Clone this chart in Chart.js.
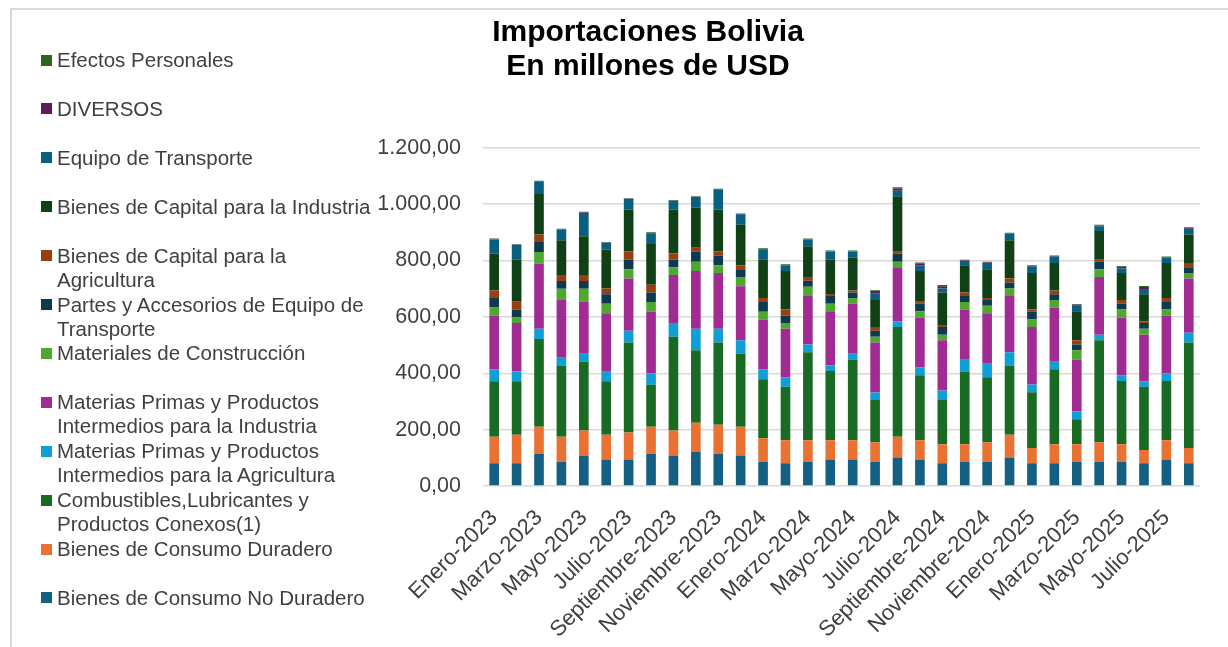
<!DOCTYPE html>
<html>
<head>
<meta charset="utf-8">
<script src="https://cdn.jsdelivr.net/npm/chart.js@4.4.1/dist/chart.umd.min.js"></script>
<style>
  html, body { margin: 0; padding: 0; background: #ffffff; }
  #wrap { position: relative; width: 1228px; height: 647px; overflow: hidden; background: #ffffff; }
  #frame { position: absolute; left: 10px; top: 8px; width: 1400px; height: 800px;
           border-left: 2px solid #d9d9d9; border-top: 2px solid #d9d9d9; }
  #chartBox { position: absolute; left: 0; top: 0; width: 1228px; height: 647px; }
  #legend { position: absolute; left: 0; top: 0; width: 420px; height: 647px;
            font-family: "Liberation Sans", Arial, sans-serif; font-size: 20.5px; color: #404040; }
  .item { position: absolute; left: 41px; white-space: pre; line-height: 24px; }
  .sw { position: absolute; left: 0; top: 6.5px; width: 11px; height: 11px; }
  .tx { position: absolute; left: 16px; top: 0; }
</style>
</head>
<body>
<div id="wrap">
  <div id="frame"></div>
  <div id="chartBox"><canvas id="c"></canvas></div>
  <div id="legend"></div>
</div>
<script>
// ---------- DATA ----------
const months = [
  'Enero-2023','Febrero-2023','Marzo-2023','Abril-2023','Mayo-2023','Junio-2023',
  'Julio-2023','Agosto-2023','Septiembre-2023','Octubre-2023','Noviembre-2023','Diciembre-2023',
  'Enero-2024','Febrero-2024','Marzo-2024','Abril-2024','Mayo-2024','Junio-2024',
  'Julio-2024','Agosto-2024','Septiembre-2024','Octubre-2024','Noviembre-2024','Diciembre-2024',
  'Enero-2025','Febrero-2025','Marzo-2025','Abril-2025','Mayo-2025','Junio-2025',
  'Julio-2025','Agosto-2025'
];

const seriesNames = [
  'Bienes de Consumo No Duradero',
  'Bienes de Consumo Duradero',
  'Combustibles,Lubricantes y\nProductos Conexos(1)',
  'Materias Primas y Productos\nIntermedios para la Agricultura',
  'Materias Primas y Productos\nIntermedios para la Industria',
  'Materiales de Construcción',
  'Partes y Accesorios de Equipo de\nTransporte',
  'Bienes de Capital para la\nAgricultura',
  'Bienes de Capital para la Industria',
  'Equipo de Transporte',
  'DIVERSOS',
  'Efectos Personales'
];

const consumoNoDuradero = [81,81,114,86,108,94,94,114,108,121,114,108,86,81,86,94,94,86,101,94,81,86,86,101,81,81,86,86,86,81,94,81];
const consumoDuradero   = [94,101,96,89,89,88,96,96,89,103,103,102,83,81,76,68,68,69,74,68,67,62,69,81,54,67,62,69,62,47,68,54];
const combustibles      = [197,190,312,253,245,190,319,149,333,258,292,259,210,190,313,246,287,150,389,231,157,258,231,246,198,266,89,362,225,224,211,374];
const mpAgricultura     = [41,34,36,27,27,36,42,41,48,76,49,48,35,34,27,20,20,27,21,28,34,42,48,47,27,27,27,20,20,20,27,35];
const mpIndustria       = [191,172,231,205,185,205,185,218,171,205,198,192,177,172,172,192,178,177,191,177,178,178,179,199,204,192,184,205,205,165,205,192];
const construccion      = [29,20,41,40,46,34,33,35,27,33,27,33,27,20,33,27,20,21,20,22,20,27,27,27,27,27,34,27,28,21,21,20];
const partesTransporte  = [34,28,36,27,27,33,34,34,27,35,35,27,35,27,21,27,20,21,29,27,27,21,20,21,27,20,20,27,21,20,27,20];
const capitalAgricultura= [27,28,26,22,22,21,29,27,22,14,14,14,14,21,14,7,7,13,6,7,7,13,7,14,8,14,15,7,13,7,14,15];
const capitalIndustria  = [131,149,144,123,137,138,149,145,156,142,149,144,136,137,109,122,116,96,197,109,116,96,102,136,130,97,103,102,96,95,124,101];
const equipoTransporte  = [49,52,43,38,83,24,37,38,31,38,69,37,37,20,23,29,22,22,20,20,14,15,22,24,24,23,20,17,16,19,19,21];
const diversos          = [1,1,1,1,1,1,1,1,1,1,2,1,1,1,1,1,1,10,8,6,8,2,2,1,1,2,4,2,6,7,1,2];
const efectosPersonales = [3,2,3,2,3,2,2,2,2,2,3,2,3,3,3,3,3,3,4,4,4,3,3,2,2,2,2,3,3,4,3,3];

const yTicks = [0, 200, 400, 600, 800, 1000, 1200];

// ---------- STYLE ----------
const seriesValues = [consumoNoDuradero, consumoDuradero, combustibles, mpAgricultura, mpIndustria,
  construccion, partesTransporte, capitalAgricultura, capitalIndustria, equipoTransporte, diversos, efectosPersonales];
const seriesColors = ['#156082','#E97132','#196B24','#0F9ED5','#A02B93','#4EA72E',
  '#0D3A4E','#983F10','#0F4016','#095F80','#601A58','#2F641C'];

const FONT = '"Liberation Sans", Arial, sans-serif';
const fmt = new Intl.NumberFormat('de-DE', { minimumFractionDigits: 2, maximumFractionDigits: 2 });

const datasets = seriesNames.map((name, i) => ({
  label: name,
  data: seriesValues[i],
  backgroundColor: seriesColors[i],
  borderWidth: 0,
  barPercentage: 0.43,
  categoryPercentage: 1.0,
  stack: 's'
}));

const chart = new Chart(document.getElementById('c'), {
  type: 'bar',
  data: { labels: months, datasets: datasets },
  options: {
    responsive: true,
    maintainAspectRatio: false,
    animation: false,
    layout: { padding: { left: 96, right: 28, top: 0, bottom: 0 } },
    plugins: {
      legend: { display: false },
      tooltip: { enabled: false },
      title: {
        display: true,
        text: ['Importaciones Bolivia', 'En millones de USD'],
        color: '#000000',
        font: { family: FONT, size: 30, weight: 'bold', lineHeight: 1.13 },
        padding: { top: 16, bottom: 64 }
      }
    },
    scales: {
      x: {
        stacked: true,
        grid: { display: false },
        border: { display: false },
        ticks: {
          autoSkip: false,
          maxRotation: 45,
          minRotation: 45,
          padding: 11,
          color: '#404040',
          font: { family: FONT, size: 22 },
          callback: function (v, i) { return i % 2 === 0 ? months[i] : ''; }
        },
        afterFit: function (scale) { scale.height = 161; }
      },
      y: {
        stacked: true,
        min: 0,
        max: 1200,
        afterBuildTicks: function (scale) { scale.ticks = yTicks.map(v => ({ value: v })); },
        grid: { color: '#d9d9d9', lineWidth: 1.5, drawTicks: false },
        border: { display: false },
        ticks: {
          padding: 22,
          color: '#404040',
          font: { family: FONT, size: 21.5 },
          callback: function (v) { return fmt.format(v); }
        },
        afterFit: function (scale) { scale.width = 387; }
      }
    }
  }
});

// ---------- HTML legend (reverse order, like the reference) ----------
const legendEl = document.getElementById('legend');
const ds = chart.data.datasets.slice().reverse();
ds.forEach((d, i) => {
  const item = document.createElement('div');
  item.className = 'item';
  item.style.top = (60 + i * 48.9 - 12) + 'px';
  const sw = document.createElement('div');
  sw.className = 'sw';
  sw.style.background = d.backgroundColor;
  const tx = document.createElement('div');
  tx.className = 'tx';
  tx.textContent = d.label;
  item.appendChild(sw);
  item.appendChild(tx);
  legendEl.appendChild(item);
});
</script>
</body>
</html>
